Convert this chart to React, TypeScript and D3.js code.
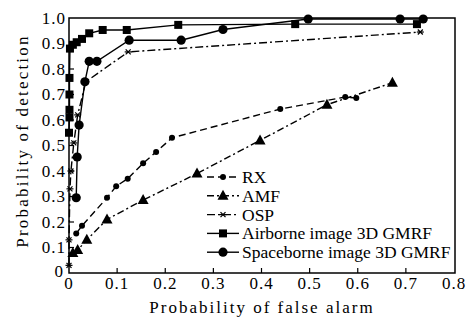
import React from "react";
import * as d3 from "d3";

const xTicks = [0, 0.1, 0.2, 0.3, 0.4, 0.5, 0.6, 0.7, 0.8];
const yTicks = [0, 0.1, 0.2, 0.3, 0.4, 0.5, 0.6, 0.7, 0.8, 0.9, 1.0];
const xTickLabels = ["0", "0.1", "0.2", "0.3", "0.4", "0.5", "0.6", "0.7", "0.8"];
const yTickLabels = ["0", "0.1", "0.2", "0.3", "0.4", "0.5", "0.6", "0.7", "0.8", "0.9", "1.0"];

const rxX = [0.015, 0.027, 0.079, 0.098, 0.122, 0.154, 0.181, 0.214, 0.439, 0.574, 0.597];
const rxY = [0.155, 0.185, 0.295, 0.34, 0.37, 0.43, 0.475, 0.53, 0.643, 0.69, 0.686];

const amfX = [0.008, 0.018, 0.037, 0.079, 0.154, 0.266, 0.397, 0.536, 0.672];
const amfY = [0.078, 0.09, 0.13, 0.21, 0.286, 0.39, 0.52, 0.66, 0.746];

const ospX = [0, 0, 0.002, 0.004, 0.01, 0.018, 0.035, 0.123, 0.73];
const ospY = [0.03, 0.13, 0.33, 0.4, 0.51, 0.62, 0.75, 0.867, 0.945];

const airX = [0, 0.001, 0.001, 0.001, 0.001, 0.002, 0.008, 0.016, 0.027, 0.042, 0.07, 0.12, 0.227, 0.47, 0.723];
const airY = [0.55, 0.61, 0.64, 0.70, 0.765, 0.88, 0.895, 0.905, 0.918, 0.94, 0.953, 0.953, 0.973, 0.976, 0.976];

const spaceX = [0.015, 0.017, 0.021, 0.033, 0.042, 0.058, 0.125, 0.233, 0.32, 0.497, 0.688, 0.736];
const spaceY = [0.295, 0.455, 0.58, 0.75, 0.83, 0.83, 0.913, 0.913, 0.955, 0.996, 0.996, 0.996];

const seriesNames = ["RX", "AMF", "OSP", "Airborne image 3D GMRF", "Spaceborne image 3D GMRF"];

const W = 468;
const H = 320;
const left = 69;
const right = 454;
const top = 18;
const bottom = 273;
const font = '"Liberation Serif", "Times New Roman", Times, serif';

type Marker = "dot" | "tri" | "star" | "square" | "circle";

function MarkerShape({ type, x, y }: { type: Marker; x: number; y: number }) {
  if (type === "dot") return <circle cx={x} cy={y} r={3} fill="#000" />;
  if (type === "circle") return <circle cx={x} cy={y} r={4.6} fill="#000" />;
  if (type === "square") return <rect x={x - 4} y={y - 4} width={8} height={8} fill="#000" />;
  if (type === "tri")
    return <path d={`M${x},${y - 6} L${x + 5.5},${y + 4} L${x - 5.5},${y + 4} Z`} fill="#000" />;
  return (
    <g stroke="#000" strokeWidth={1.2}>
      <line x1={x - 3.5} y1={y} x2={x + 3.5} y2={y} />
      <line x1={x - 2.5} y1={y - 2.5} x2={x + 2.5} y2={y + 2.5} />
      <line x1={x - 2.5} y1={y + 2.5} x2={x + 2.5} y2={y - 2.5} />
    </g>
  );
}

export default function App() {
  const xs = d3.scaleLinear().domain([0, 0.8]).range([left, right]);
  const ys = d3.scaleLinear().domain([0, 1]).range([bottom, top]);

  const series: { xs: number[]; ys: number[]; dash: string; marker: Marker }[] = [
    { xs: rxX, ys: rxY, dash: "7,4", marker: "dot" },
    { xs: amfX, ys: amfY, dash: "7,3,2,3", marker: "tri" },
    { xs: ospX, ys: ospY, dash: "8,3,2,3", marker: "star" },
    { xs: airX, ys: airY, dash: "", marker: "square" },
    { xs: spaceX, ys: spaceY, dash: "", marker: "circle" },
  ];

  const line = d3
    .line<[number, number]>()
    .x((d) => xs(d[0]))
    .y((d) => ys(d[1]));

  const legendY0 = 177;
  const legendStep = 18.8;
  const textStyle: React.CSSProperties = { fontFamily: font };

  return (
    <svg width={W} height={H} style={{ position: "absolute", left: 0, top: 0, background: "#fff" }}>
      <rect x={0} y={0} width={W} height={H} fill="#fff" />
      <rect x={left} y={top} width={right - left + 1} height={bottom - top} fill="none" stroke="#000" strokeWidth={1.5} />
      {xTicks.map((t, i) => (
        <g key={"xt" + i}>
          {i > 0 && i < xTicks.length - 1 && (
            <line x1={xs(t)} x2={xs(t)} y1={bottom} y2={bottom - 5} stroke="#000" strokeWidth={1.2} />
          )}
          <text x={xs(t)} y={289} textAnchor="middle" style={textStyle} fontSize={17} letterSpacing={1}>
            {xTickLabels[i]}
          </text>
        </g>
      ))}
      {yTicks.map((t, i) => (
        <g key={"yt" + i}>
          {i > 0 && i < yTicks.length - 1 && (
            <line x1={left} x2={left + 5} y1={ys(t)} y2={ys(t)} stroke="#000" strokeWidth={1.2} />
          )}
          <text
            x={i === 0 ? 64 : 66}
            y={ys(t) + (i === 0 ? 4 : 5.5)}
            textAnchor="end"
            style={textStyle}
            fontSize={17}
            letterSpacing={1}
          >
            {yTickLabels[i]}
          </text>
        </g>
      ))}
      <text x={262} y={313} textAnchor="middle" style={textStyle} fontSize={17} letterSpacing={2}>
        Probability of false alarm
      </text>
      <text
        transform={`translate(28,141) rotate(-90)`}
        textAnchor="middle"
        style={textStyle}
        fontSize={17}
        letterSpacing={2.2}
      >
        Probability of detection
      </text>
      {series.map((s, si) => {
        const pts: [number, number][] = s.xs.map((x, i) => [x, s.ys[i]]);
        return (
          <g key={"s" + si}>
            <path d={line(pts) || ""} fill="none" stroke="#000" strokeWidth={1.4} strokeDasharray={s.dash} />
            {pts.map((p, i) => (
              <MarkerShape key={i} type={s.marker} x={xs(p[0])} y={ys(p[1])} />
            ))}
          </g>
        );
      })}
      {series.map((s, si) => {
        const y = legendY0 + si * legendStep;
        return (
          <g key={"lg" + si}>
            <line x1={207} x2={239} y1={y} y2={y} stroke="#000" strokeWidth={1.4} strokeDasharray={s.dash} />
            <MarkerShape type={s.marker} x={223} y={y} />
            <text x={242} y={y + 6} style={textStyle} fontSize={17.5}>
              {seriesNames[si]}
            </text>
          </g>
        );
      })}
    </svg>
  );
}
